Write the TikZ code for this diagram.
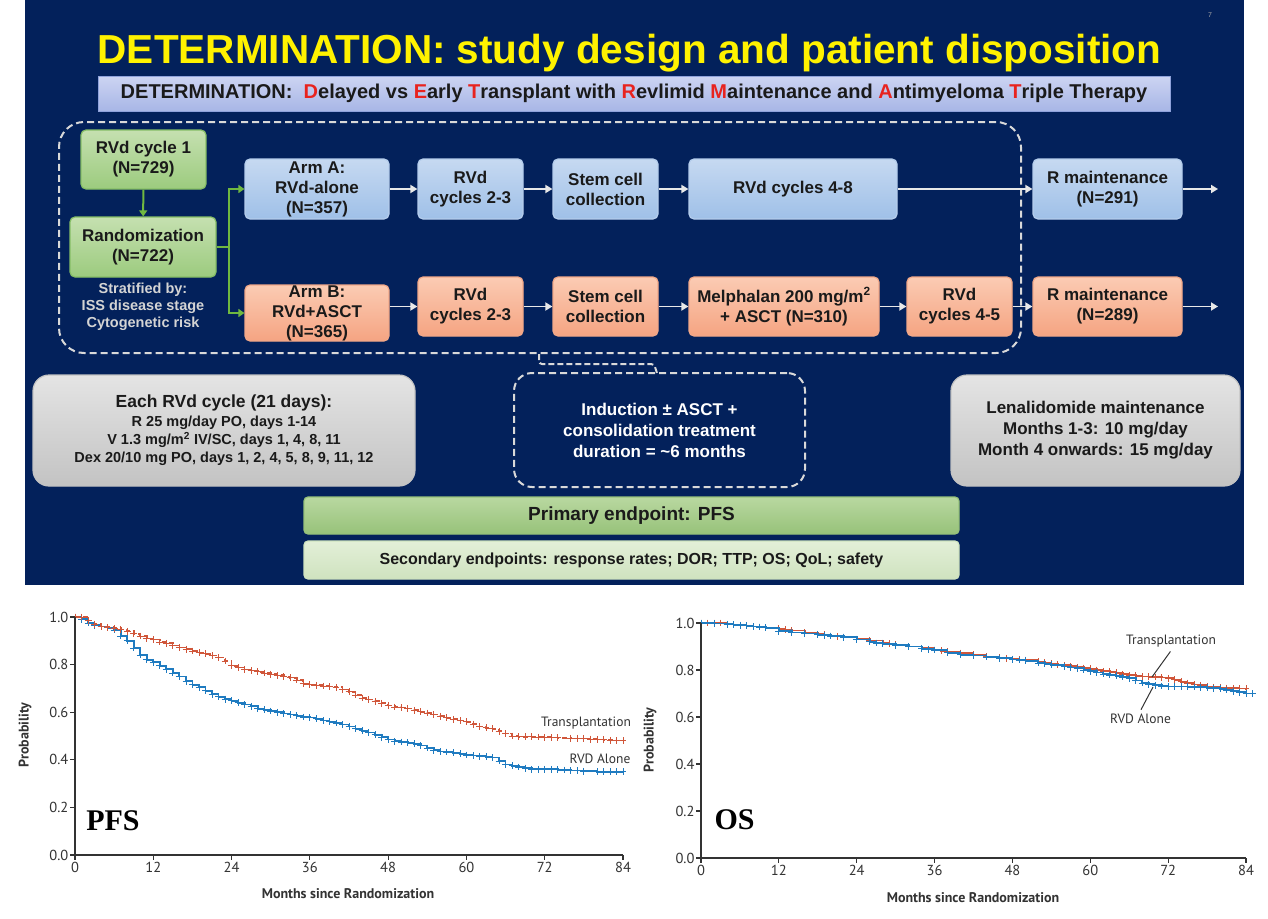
\documentclass[tikz,border=0pt]{standalone}
\usepackage{fontspec}
\setmainfont{Liberation Sans}
\newfontfamily\plotfont{PT Sans}
\newfontfamily\timesfont{Liberation Serif}
\usetikzlibrary{arrows.meta}
\newcommand\myfs[2]{\fontsize{#1}{#2}\selectfont}
\definecolor{navy}{HTML}{03215B}
\definecolor{bluetop}{HTML}{C6D9F1}
\definecolor{bluebot}{HTML}{9FC0E8}
\definecolor{bluedraw}{HTML}{B5CDEC}
\definecolor{orangetop}{HTML}{FBCBB3}
\definecolor{orangebot}{HTML}{F5A482}
\definecolor{orangedraw}{HTML}{F2A888}
\definecolor{greentop}{HTML}{C5E0B0}
\definecolor{greenbot}{HTML}{9CCB7E}
\definecolor{greendraw}{HTML}{86BE66}
\definecolor{graytop}{HTML}{E4E4E4}
\definecolor{graybot}{HTML}{C3C3C3}
\definecolor{primtop}{HTML}{B9D8A0}
\definecolor{primbot}{HTML}{97C27A}
\definecolor{sectop}{HTML}{E3EFD8}
\definecolor{secbot}{HTML}{CFE3BF}
\definecolor{subtop}{HTML}{CCD4F2}
\definecolor{subbot}{HTML}{A8B6E6}
\definecolor{subdraw}{HTML}{8FA2DB}
\definecolor{arrowc}{HTML}{E8E8E8}
\definecolor{dashc}{HTML}{D9D9D9}
\definecolor{greenc}{HTML}{70B840}
\definecolor{redtext}{HTML}{E8231E}
\definecolor{plotred}{HTML}{D0563A}
\definecolor{plotblue}{HTML}{1F7BC0}
\definecolor{axisc}{HTML}{333333}
\definecolor{stratc}{HTML}{D4D4D4}
\definecolor{boxtext}{HTML}{1A1A1A}
\begin{document}
\begin{tikzpicture}[x=1pt,y=-1pt,
  box/.style={rounded corners=5pt, line width=1.2pt, align=center, inner sep=0pt,
    font=\bfseries\myfs{17}{20}, text=boxtext},
  bbox/.style={box, draw=bluedraw, top color=bluetop, bottom color=bluebot},
  obox/.style={box, draw=orangedraw, top color=orangetop, bottom color=orangebot},
  gbox/.style={box, draw=greendraw, top color=greentop, bottom color=greenbot},
  graybox/.style={box, rounded corners=16pt, draw=graybot, top color=graytop, bottom color=graybot},
  dframe/.style={draw=dashc, line width=2pt, dash pattern=on 7pt off 4pt, rounded corners=25pt},
  arr/.style={draw=arrowc, line width=1.8pt, -{Triangle[length=7pt,width=8pt]}},
  gline/.style={draw=greenc, line width=2pt},
  garr/.style={gline, -{Triangle[length=6pt,width=8pt]}},
  tickf/.style={font=\plotfont\myfs{14.5}{16}, text=axisc},
  labf/.style={font=\plotfont\bfseries\myfs{14}{16}, text=axisc},
  legf/.style={font=\plotfont\myfs{13.5}{15}, text=axisc},
  markopts/.style={const plot, mark=+, mark size=3.4pt, mark options={solid, line width=0.8pt}}
]
\useasboundingbox (0,0) rectangle (1268,918);
\fill[white] (0,0) rectangle (1268,918);
\fill[navy] (25,0) rectangle (1244,585);

% title
\node[anchor=base, text=yellow, font=\bfseries\myfs{40.5}{48}, inner sep=0pt] (title) at (629.5,63)
  {DETERMINATION: study design and patient disposition};
\node[text=gray!70, font=\myfs{7}{8}] (pg) at (1210,15) {7};

\node[box, rounded corners=0pt, draw=subdraw, line width=1pt, top color=subtop, bottom color=subbot,
  minimum width=1072pt, minimum height=35pt, font=\bfseries\myfs{20}{24}] (sub) at (634,93.5)
  {DETERMINATION:\ \ \textcolor{redtext}{D}elayed vs \textcolor{redtext}{E}arly \textcolor{redtext}{T}ransplant with \textcolor{redtext}{R}evlimid \textcolor{redtext}{M}aintenance and \textcolor{redtext}{A}ntimyeloma \textcolor{redtext}{T}riple Therapy};

% dashed frame
\node[dframe, minimum width=962pt, minimum height=231pt] (frame) at (540,237.5) {};

% green boxes
\node[gbox, minimum width=125pt, minimum height=59pt] (c1) at (143.5,159.5) {RVd cycle 1\\(N=729)};
\node[gbox, minimum width=146pt, minimum height=60pt] (rand) at (143,247) {Randomization\\(N=722)};
\node[font=\bfseries\myfs{14.5}{17}, text=stratc, align=center, inner sep=0pt] (strat) at (143,307)
  {Stratified by:\\ISS disease stage\\Cytogenetic risk};

% arm A row
\node[bbox, minimum width=144pt, minimum height=60pt] (armA) at (317,189) {Arm A:\\RVd-alone\\(N=357)};
\node[bbox, minimum width=105pt, minimum height=60pt] (r23a) at (470.5,189) {RVd\\cycles 2-3};
\node[bbox, minimum width=105pt, minimum height=60pt] (sca) at (605.5,189) {Stem cell\\collection};
\node[bbox, minimum width=208pt, minimum height=60pt] (r48) at (793,189) {RVd cycles 4-8};
\node[bbox, minimum width=149pt, minimum height=60pt] (rma) at (1107.5,189) {R maintenance\\(N=291)};
\coordinate (outa) at (1218,189);

% arm B row
\node[obox, minimum width=144pt, minimum height=56pt] (armB) at (317,313) {Arm B:\\RVd+ASCT\\(N=365)};
\node[obox, minimum width=105pt, minimum height=59pt] (r23b) at (470.5,306.5) {RVd\\cycles 2-3};
\node[obox, minimum width=105pt, minimum height=59pt] (scb) at (605.5,306.5) {Stem cell\\collection};
\node[obox, minimum width=190pt, minimum height=59pt] (mel) at (784,306.5) {Melphalan 200 mg/m\textsuperscript{2}\\+ ASCT (N=310)};
\node[obox, minimum width=105pt, minimum height=59pt] (r45) at (959.5,306.5) {RVd\\cycles 4-5};
\node[obox, minimum width=149pt, minimum height=59pt] (rmb) at (1107.5,306.5) {R maintenance\\(N=289)};
\coordinate (outb) at (1218,306.5);

% green connectors
\draw[garr] (c1) -- (rand);
\coordinate (gs) at (229,247);
\draw[gline] (rand.east) -- (gs);
\draw[garr] (gs) |- (armA.west);
\draw[garr] (gs) |- (armB.west);

% arrows
\draw[arr] (armA) -- (r23a);
\draw[arr] (r23a) -- (sca);
\draw[arr] (sca) -- (r48);
\draw[arr] (r48) -- (rma);
\draw[arr] (rma) -- (outa);
\draw[arr] (armB.east |- r23b.west) -- (r23b.west);
\draw[arr] (r23b) -- (scb);
\draw[arr] (scb) -- (mel);
\draw[arr] (mel) -- (r45);
\draw[arr] (r45) -- (rmb);
\draw[arr] (rmb) -- (outb);

% bottom info
\node[graybox, minimum width=382pt, minimum height=111pt, font=\bfseries\myfs{14.5}{18}] (each) at (224,430.5)
  {{\myfs{17.5}{18}Each RVd cycle (21 days):}\\[1pt]R 25 mg/day PO, days 1-14\\V 1.3 mg/m\textsuperscript{2} IV/SC, days 1, 4, 8, 11\\Dex 20/10 mg PO, days 1, 2, 4, 5, 8, 9, 11, 12};
\node[dframe, rounded corners=18pt, minimum width=291pt, minimum height=114pt, align=center,
  text=white, font=\bfseries\myfs{17}{21}] (ind) at (659.5,430)
  {Induction ± ASCT +\\consolidation treatment\\duration = \textasciitilde6 months};
\coordinate (ba) at (539,354);
\coordinate (bb) at (657,373);
\draw[draw=dashc, line width=2pt, dash pattern=on 6pt off 3pt, rounded corners=3pt] (ba) -- (539,364) -- (654,364) -- (bb);
\node[graybox, minimum width=289pt, minimum height=111pt, font=\bfseries\myfs{17}{21}] (len) at (1095.5,430.5)
  {Lenalidomide maintenance\\Months 1-3: 10 mg/day\\Month 4 onwards: 15 mg/day};
\node[box, rounded corners=4pt, draw=primbot, top color=primtop, bottom color=primbot,
  minimum width=655pt, minimum height=37pt, font=\bfseries\myfs{19}{22}] (prim) at (631.5,515.5) {Primary endpoint: PFS};
\node[box, rounded corners=4pt, draw=secbot, top color=sectop, bottom color=secbot,
  minimum width=655pt, minimum height=38pt, font=\bfseries\myfs{16}{20}] (sec) at (631.5,560)
  {Secondary endpoints: response rates; DOR; TTP; OS; QoL; safety};

% ---------- PFS plot ----------
\begin{scope}[shift={(75,855)}, x=6.5238pt, y=238pt]
  \draw[plotblue, line width=1.8pt, markopts] plot coordinates {
   (0,1) (1,0.99) (2,0.975) (3,0.965) (4,0.96) (5,0.955) (6,0.945) (7,0.92) (8,0.9) (9,0.87) (10,0.84) (11,0.82) (12,0.81) (13,0.795) (14,0.78) (15,0.765) (16,0.75) (17,0.73) (18,0.715) (19,0.705) (20,0.69) (21,0.675) (22,0.665) (23,0.655) (24,0.648) (25,0.64) (26,0.632) (27,0.625) (28,0.615) (29,0.61) (30,0.605) (31,0.6) (32,0.595) (33,0.59) (34,0.585) (35,0.58) (36,0.578) (37,0.572) (38,0.565) (39,0.56) (40,0.555) (41,0.548) (42,0.54) (43,0.53) (44,0.522) (45,0.515) (46,0.505) (47,0.495) (48,0.485) (49,0.478) (50,0.475) (51,0.472) (52,0.468) (53,0.46) (54,0.45) (55,0.44) (56,0.435) (57,0.433) (58,0.43) (59,0.425) (60,0.42) (61,0.418) (62,0.415) (63,0.413) (64,0.41) (65,0.395) (66,0.38) (67,0.375) (68,0.37) (69,0.365) (70,0.36) (71,0.36) (72,0.36) (73,0.36) (74,0.358) (75,0.357) (76,0.355) (77,0.355) (78,0.352) (80,0.35) (81,0.35) (82,0.35) (83,0.35) (84,0.35)};
  \draw[plotred, line width=1.7pt, dash pattern=on 5pt off 3pt, markopts] plot coordinates {
   (0,1) (1,1) (2,0.985) (3,0.97) (4,0.96) (5,0.957) (6,0.953) (7,0.948) (8,0.94) (9,0.93) (10,0.92) (11,0.91) (12,0.905) (13,0.895) (14,0.89) (15,0.88) (16,0.872) (17,0.865) (18,0.857) (19,0.85) (20,0.845) (21,0.838) (22,0.83) (23,0.815) (24,0.795) (25,0.788) (26,0.78) (27,0.775) (28,0.77) (29,0.765) (30,0.76) (31,0.755) (32,0.75) (33,0.745) (34,0.735) (35,0.72) (36,0.715) (37,0.713) (38,0.71) (39,0.708) (40,0.705) (41,0.695) (42,0.686) (43,0.672) (44,0.66) (45,0.653) (46,0.646) (47,0.638) (48,0.628) (49,0.622) (50,0.62) (51,0.615) (52,0.608) (53,0.602) (54,0.597) (55,0.59) (56,0.583) (57,0.577) (58,0.57) (59,0.565) (60,0.56) (61,0.55) (62,0.54) (63,0.535) (64,0.53) (65,0.52) (66,0.51) (67,0.5) (68,0.497) (69,0.497) (70,0.497) (71,0.496) (72,0.495) (73,0.494) (74,0.493) (76,0.49) (77,0.49) (78,0.49) (79,0.487) (80,0.485) (81,0.484) (82,0.482) (83,0.481) (84,0.48)};
  \draw[axisc, line width=1.2pt] (0,1) -- (0,0) -- (84,0);
  \foreach \v/\l [count=\i] in {0/0.0,0.2/0.2,0.4/0.4,0.6/0.6,0.8/0.8,1/1.0}
    \draw[axisc, line width=1.2pt] (0,\v) -- ++(-5pt,0) node[tickf, anchor=east, inner sep=1pt] (pyl\i) {\l};
  \foreach \t in {0,12,...,84}
    \draw[axisc, line width=1.2pt] (\t,0) -- ++(0,-5pt) node[tickf, anchor=north, inner sep=2pt] (pxl\t) {\t};
\end{scope}
\node[labf, rotate=90] (pylab) at (25,735) {Probability};
\node[labf] (pxlab) at (348,894) {Months since Randomization};
\node[legf] (pT) at (586,723) {Transplantation};
\node[legf] (pR) at (600,759) {RVD Alone};
\node[font=\timesfont\bfseries\myfs{30}{34}, text=black] (pfs) at (113,821) {PFS};

% ---------- OS plot ----------
\begin{scope}[shift={(701,858)}, x=6.488pt, y=235pt]
  \draw[plotred, line width=1.7pt, markopts] plot coordinates {
   (0,1) (1,1) (2,1) (3,1) (4,0.995) (5,0.993) (6,0.99) (8,0.985) (9,0.983) (10,0.98) (12,0.975) (13,0.972) (14,0.968) (16,0.96) (18,0.952) (19,0.95) (20,0.945) (21,0.943) (22,0.94) (24,0.932) (26,0.925) (28,0.915) (29,0.912) (30,0.908) (32,0.9) (34,0.893) (36,0.885) (37,0.882) (38,0.878) (40,0.872) (42,0.865) (44,0.857) (46,0.852) (47,0.85) (48,0.847) (49,0.845) (50,0.842) (52,0.835) (53,0.832) (54,0.828) (55,0.824) (56,0.82) (57,0.816) (58,0.812) (59,0.808) (60,0.805) (61,0.8) (62,0.795) (63,0.792) (64,0.788) (65,0.782) (66,0.778) (67,0.775) (68,0.772) (69,0.771) (70,0.77) (71,0.768) (72,0.765) (73,0.758) (74,0.75) (75,0.745) (76,0.738) (77,0.735) (78,0.73) (79,0.727) (80,0.725) (81,0.723) (82,0.722) (83,0.721) (84,0.72)};
  \draw[plotblue, line width=1.8pt, markopts] plot coordinates {
   (0,1) (2,0.998) (4,0.995) (5,0.993) (6,0.99) (7,0.988) (8,0.985) (9,0.983) (10,0.98) (12,0.965) (14,0.96) (16,0.955) (18,0.95) (19,0.948) (20,0.945) (22,0.94) (24,0.93) (26,0.92) (27,0.915) (28,0.912) (30,0.905) (32,0.9) (34,0.89) (35,0.888) (36,0.885) (38,0.873) (40,0.865) (42,0.862) (44,0.855) (46,0.85) (48,0.845) (49,0.843) (50,0.84) (52,0.83) (53,0.826) (54,0.822) (56,0.815) (57,0.811) (58,0.807) (59,0.8) (60,0.795) (61,0.789) (62,0.783) (63,0.779) (64,0.775) (65,0.77) (66,0.765) (67,0.755) (68,0.745) (69,0.74) (70,0.735) (71,0.732) (72,0.73) (73,0.73) (74,0.73) (75,0.729) (76,0.728) (77,0.727) (78,0.725) (79,0.723) (80,0.72) (81,0.715) (82,0.71) (83,0.705) (84,0.7) (85,0.7)};
  \draw[axisc, line width=1.2pt] (0,1) -- (0,0) -- (84,0);
  \foreach \v/\l [count=\i] in {0/0.0,0.2/0.2,0.4/0.4,0.6/0.6,0.8/0.8,1/1.0}
    \draw[axisc, line width=1.2pt] (0,\v) -- ++(-5pt,0) node[tickf, anchor=east, inner sep=1pt] (oyl\i) {\l};
  \foreach \t in {0,12,...,84}
    \draw[axisc, line width=1.2pt] (\t,0) -- ++(0,-5pt) node[tickf, anchor=north, inner sep=2pt] (oxl\t) {\t};
\end{scope}
\node[labf, rotate=90] (oylab) at (650,740) {Probability};
\node[labf] (oxlab) at (973,898) {Months since Randomization};
\node[legf] (oT) at (1171,641) {Transplantation};
\node[legf] (oR) at (1140.5,719) {RVD Alone};
\coordinate (oTp) at (1152,677);
\coordinate (oRp) at (1153,687);
\draw[axisc, line width=1pt, shorten <=1pt] (oT.south) -- (oTp);
\draw[axisc, line width=1pt, shorten <=1pt] (oR.north) -- (oRp);
\node[font=\timesfont\bfseries\myfs{30}{34}, text=black] (os) at (734.5,820) {OS};
\end{tikzpicture}
\end{document}
